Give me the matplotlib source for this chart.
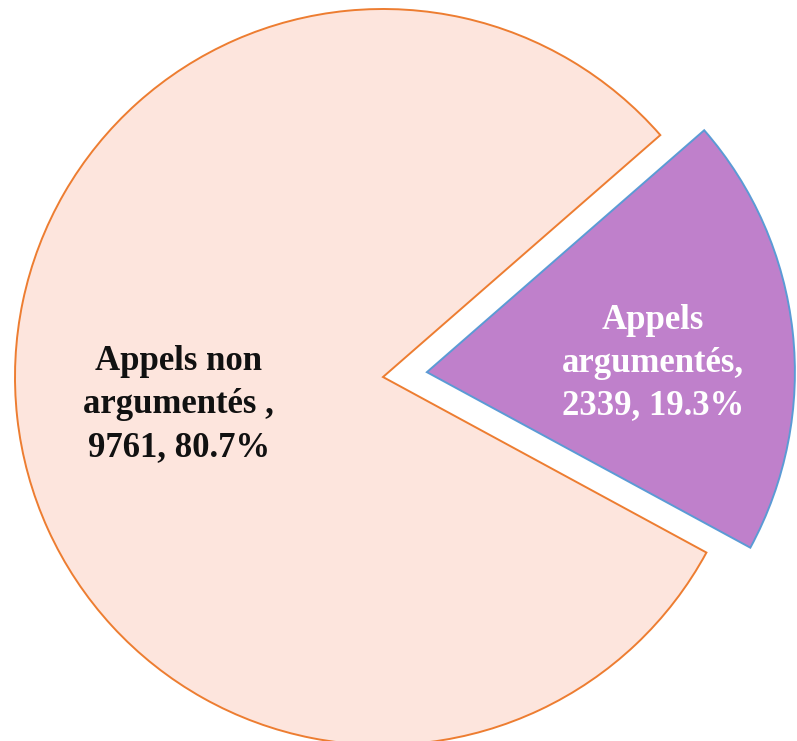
import matplotlib.pyplot as plt

labels = ["Appels non\nargumentés ,\n9761, 80.7%", "Appels\nargumentés,\n2339, 19.3%"]
values = [9761, 2339]
fills = ["#FDE5DD", "#BF80CB"]
edges = ["#ED7D31", "#5B9BD5"]
text_colors = ["#111111", "white"]
explode = [0, 0.12]

fig = plt.figure(figsize=(7.97, 7.41), dpi=100)
ax = fig.add_axes([0, 0, 1, 1])

wedges, _ = ax.pie(values, explode=explode, colors=fills, startangle=41.1,
                   counterclock=True, radius=1.0, center=(0, 0))
for w, ec in zip(wedges, edges):
    w.set_edgecolor(ec)
    w.set_linewidth(1.4)

# label positions (in data units, radius = 1)
pos = [(-0.555, -0.076), (0.733, 0.038)]
for (x, y), lab, tc in zip(pos, labels, text_colors):
    ax.text(x, y, lab, ha="center", va="center", color=tc,
            fontsize=25, fontweight="bold", family="Liberation Serif",
            linespacing=1.4)

scale = 368.0
ax.set_xlim(-383 / scale, (797 - 383) / scale)
ax.set_ylim(-(741 - 377) / scale, 377 / scale)
ax.set_aspect("auto")
ax.axis("off")

fig.savefig("out.png", dpi=100, facecolor="white")
